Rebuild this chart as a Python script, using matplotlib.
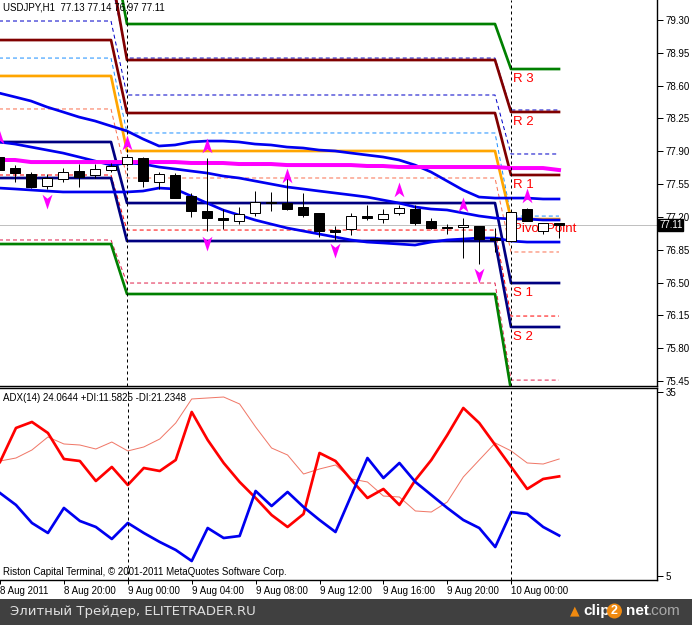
import numpy as np
import matplotlib
matplotlib.use('Agg')
import matplotlib.pyplot as plt
from matplotlib.path import Path
from matplotlib.patches import Rectangle

W, H = 692, 625

# ---------------- data ----------------
bars = np.arange(36)
opens  = [77.84,77.72,77.66,77.53,77.60,77.69,77.65,77.70,77.76,77.83,77.57,77.65,77.42,77.26,77.19,77.16,77.24,77.36,
          77.35,77.31,77.24,77.06,77.07,77.21,77.18,77.24,77.28,77.16,77.09,77.09,77.10,76.97,76.94,77.28,77.05,77.13]
highs  = [77.86,77.75,77.68,77.66,77.72,77.76,77.76,77.78,77.87,77.84,77.68,77.67,77.46,77.83,77.28,77.31,77.48,77.47,
          77.63,77.46,77.24,77.10,77.24,77.33,77.28,77.33,77.33,77.19,77.12,77.19,77.10,77.08,77.25,77.30,77.14,77.14]
lows   = [77.68,77.57,77.51,77.50,77.57,77.52,77.61,77.68,77.74,77.52,77.50,77.40,77.20,77.05,77.07,77.12,77.21,77.26,
          77.27,77.20,76.99,76.95,77.01,77.17,77.14,77.22,77.11,77.07,77.02,76.76,76.70,76.83,76.94,77.16,77.02,76.97]
closes = [77.70,77.67,77.52,77.61,77.68,77.63,77.71,77.74,77.84,77.58,77.66,77.40,77.26,77.19,77.17,77.23,77.36,77.35,
          77.28,77.22,77.05,77.04,77.21,77.19,77.23,77.29,77.14,77.08,77.08,77.11,76.96,76.95,77.25,77.16,77.14,77.11]

day_lengths = [8, 24, 4]
R3 = [80.17, 79.257, 78.777]
R2 = [79.83, 78.873, 78.319]
R1 = [79.086, 78.308, 77.647]
PP = [78.703, 77.903, 77.177]
S1 = [77.999, 77.348, 76.495]
S2 = [77.615, 76.943, 76.026]
S3 = [76.911, 76.378, 75.354]

M1 = [79.73, 78.894, 78.340]
M2 = [79.289, 78.500, 77.871]
M3 = [78.894, 78.095, 77.209]
M4 = [78.351, 77.615, 76.826]
M5 = [77.647, 77.060, 76.143]
M6 = [76.954, 76.495, 75.460]

band_upper = [78.521,78.479,78.436,78.372,78.319,78.265,78.223,78.169,78.116,78.031,77.956,77.967,77.999,78.009,78.009,77.999,
              77.977,77.967,77.945,77.935,77.913,77.903,77.881,77.860,77.839,77.807,77.753,77.679,77.583,77.487,77.412,77.401,
              77.401,77.401,77.391,77.391]
band_mid = [77.999,77.977,77.945,77.913,77.881,77.839,77.796,77.753,77.775,77.764,77.732,77.711,77.689,77.668,77.636,77.615,
            77.583,77.551,77.519,77.498,77.476,77.455,77.434,77.412,77.380,77.348,77.306,77.284,77.274,77.242,77.210,77.188,
            77.178,77.178,77.167,77.167]
band_lower = [77.508,77.498,77.487,77.476,77.466,77.466,77.466,77.466,77.466,77.476,77.508,77.498,77.423,77.348,77.274,77.220,
              77.167,77.124,77.082,77.050,77.018,76.986,76.954,76.932,76.922,76.911,76.900,76.932,76.954,76.964,76.975,76.975,
              76.943,76.932,76.932,76.932]
ma_long = [77.807,77.807,77.785,77.785,77.785,77.785,77.785,77.785,77.785,77.785,77.785,77.785,77.775,77.775,77.775,77.764,
           77.764,77.764,77.753,77.753,77.753,77.753,77.753,77.743,77.743,77.732,77.732,77.732,77.732,77.732,77.732,77.732,
           77.721,77.721,77.721,77.700]

frac_up_bars = [0, 8, 13, 18, 25, 29, 33]
frac_up_vals = [78.052, 77.988, 77.956, 77.636, 77.487, 77.327, 77.423]
frac_dn_bars = [3, 13, 21, 30]
frac_dn_vals = [77.369, 76.922, 76.847, 76.580]

adx   = [23.74,24.23,25.54,27.66,26.52,26.35,25.70,26.84,25.38,26.03,27.33,29.94,33.86,34.02,34.18,33.04,29.29,25.86,
         24.72,21.62,22.44,23.09,20.81,20.32,18.03,17.87,15.59,15.42,17.06,21.13,23.91,26.68,25.38,23.42,23.25,24.07]
plus_di = [18.52,16.57,13.63,12.00,16.08,13.96,12.98,11.02,13.63,12.00,10.53,9.23,7.43,12.81,11.18,11.51,18.85,16.40,
           18.69,16.24,14.12,12.16,18.20,24.23,20.97,23.42,20.32,18.20,16.08,14.12,12.81,9.71,15.42,15.10,12.98,11.58]
minus_di = [23.58,29.13,30.11,28.31,24.07,23.74,20.48,22.77,19.83,22.60,22.11,23.91,31.74,27.17,23.42,20.32,17.71,14.93,
            12.98,15.10,25.05,23.74,20.64,17.71,19.18,16.57,20.64,23.91,27.99,32.39,29.94,26.35,22.77,19.18,20.81,21.23]

price_ticks = [75.45, 75.80, 76.15, 76.50, 76.85, 77.20, 77.55, 77.90, 78.25, 78.60, 78.95, 79.30]
adx_ticks = [5, 35]
time_tick_bars = [0, 4, 8, 12, 16, 20, 24, 28, 32]
time_labels = ['8 Aug 2011', '8 Aug 20:00', '9 Aug 00:00', '9 Aug 04:00', '9 Aug 08:00',
               '9 Aug 12:00', '9 Aug 16:00', '9 Aug 20:00', '10 Aug 00:00']
day_sep_bars = [8, 32]
last_price = 77.11
pivot_labels = ['R 3', 'R 2', 'R 1', 'Pivot Point', 'S 1', 'S 2']

# ---------------- figure ----------------
FONT = 'Liberation Sans'
PX = 72.0 / 100.0  # points per pixel
fig = plt.figure(figsize=(W / 100, H / 100), dpi=100)
fig.patch.set_facecolor('white')

def fx(x):
    return x / W

def fy(y):
    return 1 - y / H

ax = fig.add_axes([0, fy(386), 657 / W, 386 / H])
ax2 = fig.add_axes([0, fy(580), 657 / W, (580 - 388) / H])
XL = (1 / 16, 658 / 16)
ax.set_xlim(*XL)
ax.set_ylim(75.397, 79.513)
ax2.set_xlim(*XL)
ax2.set_ylim(4.33, 35.65)

for a in (ax, ax2):
    a.set_facecolor('white')
    a.spines['left'].set_visible(False)
    for s in ('right', 'bottom', 'top'):
        a.spines[s].set_linewidth(1.4 * PX)
        a.spines[s].set_color('black')
ax.spines['top'].set_visible(False)

def expand(levels):
    return np.repeat(levels, day_lengths)

LW = 2.7 * PX

# gray current price line
ax.axhline(last_price, color='#C0C0C0', lw=1 * PX, zorder=1)

# dashed intermediate levels
dash_cols = ['#0000C8', '#0000C8', '#1E90FF', '#FA7050', '#FF0000', '#E0204A']
for lv, c in zip([M1, M2, M3, M4, M5, M6], dash_cols):
    ax.plot(bars, expand(lv), color=c, lw=1 * PX, ls=(0, (4, 3)), zorder=2)

# pivot levels
piv_cols = ['#008000', '#800000', '#800000', '#FFA500', '#000080', '#000080', '#008000']
for lv, c in zip([R3, R2, R1, PP, S1, S2, S3], piv_cols):
    ax.plot(bars, expand(lv), color=c, lw=LW, zorder=3)

# bands and long MA
for b in (band_upper, band_mid, band_lower):
    ax.plot(bars, b, color='#0000F0', lw=LW, zorder=4)
ax.plot(bars, ma_long, color='#FF00FF', lw=4 * PX, zorder=4)

# pivot labels for the current day
lab_levels = [R3[2], R2[2], R1[2], PP[2], S1[2], S2[2]]
for t, lv in zip(pivot_labels, lab_levels):
    ax.annotate(t, xy=(day_sep_bars[1], lv), xytext=(2, -10), textcoords='offset pixels',
                color='#FF0000', fontsize=9.5, family=FONT, va='center', ha='left', zorder=5)

# day separators
for b in day_sep_bars:
    ax.axvline(b, color='black', lw=1 * PX, ls=(0, (3, 3)), zorder=5)
    ax2.axvline(b, color='black', lw=1 * PX, ls=(0, (3, 3)), zorder=5)

# candles
o = np.array(opens); c = np.array(closes)
ax.vlines(bars, lows, highs, color='black', lw=1 * PX, zorder=6)
bottoms = np.minimum(o, c)
heights = np.maximum(np.abs(c - o), 0.008)
fc = ['white' if cc > oo else 'black' for oo, cc in zip(o, c)]
ax.bar(bars, heights, bottom=bottoms, width=0.66, color=fc, edgecolor='black', lw=1 * PX, zorder=7)

# fractal arrows
up_path = Path([(0, 1), (0.62, -0.85), (0, -0.35), (-0.62, -0.85), (0, 1)],
               [Path.MOVETO, Path.LINETO, Path.LINETO, Path.LINETO, Path.CLOSEPOLY])
dn_path = Path([(0, -1), (0.62, 0.85), (0, 0.35), (-0.62, 0.85), (0, -1)],
               [Path.MOVETO, Path.LINETO, Path.LINETO, Path.LINETO, Path.CLOSEPOLY])
ax.scatter(frac_up_bars, frac_up_vals, marker=up_path, s=(16 * PX) ** 2, color='#FF00FF', zorder=8, lw=0)
ax.scatter(frac_dn_bars, frac_dn_vals, marker=dn_path, s=(16 * PX) ** 2, color='#FF00FF', zorder=8, lw=0)

# price axis
ax.yaxis.tick_right()
ax.set_yticks(price_ticks)
ax.set_yticklabels(['%.2f' % v for v in price_ticks])
ax.tick_params(axis='y', direction='out', length=4, width=1 * PX, pad=2, labelsize=7, colors='black')
for lb in ax.get_yticklabels():
    lb.set_family(FONT)
ax.set_xticks([])

# current price tag
fig.text(fx(659), fy(225), '%.2f' % last_price, color='white', fontsize=7, family=FONT,
         va='center', ha='left',
         bbox=dict(boxstyle='square,pad=0.1', fc='black', ec='black'))

# header
fig.text(fx(3), fy(8), 'USDJPY,H1  77.13 77.14 76.97 77.11', fontsize=7, family=FONT,
         va='center', ha='left', color='black')

# ---------------- ADX panel ----------------
ax2.plot(bars, adx, color='#F07868', lw=1 * PX, zorder=3)
ax2.plot(bars, minus_di, color='#FF0000', lw=LW, zorder=4)
ax2.plot(bars, plus_di, color='#0000F0', lw=LW, zorder=4)
ax2.yaxis.tick_right()
ax2.set_yticks(adx_ticks)
ax2.set_yticklabels([str(v) for v in adx_ticks])
ax2.tick_params(axis='y', direction='out', length=4, width=1 * PX, pad=2, labelsize=7)
for lb in ax2.get_yticklabels():
    lb.set_family(FONT)
ax2.set_xticks(time_tick_bars)
ax2.set_xticklabels(time_labels, ha='left')
ax2.tick_params(axis='x', direction='out', length=3, width=1 * PX, pad=1, labelsize=7)
for lb in ax2.get_xticklabels():
    lb.set_family(FONT)

fig.text(fx(3), fy(398), 'ADX(14) 24.0644 +DI:11.5825 -DI:21.2348', fontsize=7, family=FONT,
         va='center', ha='left')
fig.text(fx(3), fy(572), 'Riston Capital Terminal, \u00a9 2001-2011 MetaQuotes Software Corp.', fontsize=7,
         family=FONT, va='center', ha='left')

# ---------------- bottom banner ----------------
fig.patches.append(Rectangle((0, 0), 1, (H - 599) / H, transform=fig.transFigure,
                             facecolor='#404040', edgecolor='none', zorder=0))
fig.text(fx(10), fy(611), '\u042d\u043b\u0438\u0442\u043d\u044b\u0439 \u0422\u0440\u0435\u0439\u0434\u0435\u0440, ELITETRADER.RU',
         color='#E0E0E0', fontsize=9.5, family='DejaVu Sans', va='center', ha='left')
fig.text(fx(583), fy(611), 'clip', color='white', fontsize=11, family=FONT, weight='bold', va='center', ha='left')
fig.text(fx(611), fy(611), '2', color='white', fontsize=9, family=FONT, weight='bold', va='center', ha='left',
         bbox=dict(boxstyle='circle,pad=0.12', fc='#F08A10', ec='none'))
fig.text(fx(626), fy(611), 'net', color='white', fontsize=11, family=FONT, weight='bold', va='center', ha='left')
fig.text(fx(648), fy(611), '.com', color='#A8A8A8', fontsize=11, family=FONT, va='center', ha='left')
fig.text(fx(570), fy(611), '\u25b2', color='#F08A10', fontsize=9, family='DejaVu Sans', va='center', ha='left')

fig.savefig('out.png', dpi=100, facecolor='white')
